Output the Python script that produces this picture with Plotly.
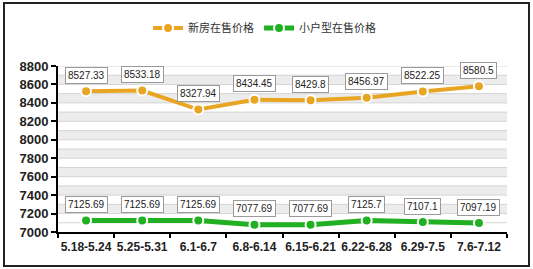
import plotly.graph_objects as go

categories = ["5.18-5.24", "5.25-5.31", "6.1-6.7", "6.8-6.14", "6.15-6.21", "6.22-6.28", "6.29-7.5", "7.6-7.12"]
new_price = [8527.33, 8533.18, 8327.94, 8434.45, 8429.8, 8456.97, 8522.25, 8580.5]
new_labels = ["8527.33", "8533.18", "8327.94", "8434.45", "8429.8", "8456.97", "8522.25", "8580.5"]
small_price = [7125.69, 7125.69, 7125.69, 7077.69, 7077.69, 7125.7, 7107.1, 7097.19]
small_labels = ["7125.69", "7125.69", "7125.69", "7077.69", "7077.69", "7125.7", "7107.1", "7097.19"]
y_ticks = [7000, 7200, 7400, 7600, 7800, 8000, 8200, 8400, 8600, 8800]

ORANGE = "#E8A522"
GREEN = "#21B021"

fig = go.Figure()
fig.add_trace(go.Scatter(
    x=categories, y=new_price, name="新房在售价格", mode="lines+markers",
    line=dict(color=ORANGE, width=4),
    marker=dict(color=ORANGE, size=10, line=dict(color="white", width=2)),
))
fig.add_trace(go.Scatter(
    x=categories, y=small_price, name="小户型在售价格", mode="lines+markers",
    line=dict(color=GREEN, width=5),
    marker=dict(color=GREEN, size=10, line=dict(color="white", width=2)),
))

shapes = []
for v in range(7000, 8800, 100):
    if (v // 100) % 2 == 0 and v >= 7200:
        shapes.append(dict(type="rect", xref="paper", yref="y", x0=0, x1=1, y0=v, y1=v + 100,
                           fillcolor="#ECECEC", line=dict(width=0), layer="below"))
for v in range(7100, 8900, 100):
    shapes.append(dict(type="line", xref="paper", yref="y", x0=0, x1=1, y0=v, y1=v,
                       line=dict(color="#D4D4D4", width=1), layer="below"))
shapes.append(dict(type="rect", xref="paper", yref="paper",
                   x0=-54 / 449, x1=1 + 22 / 449, y0=-34 / 166, y1=1 + 63 / 166,
                   line=dict(color="#222222", width=2), fillcolor="rgba(0,0,0,0)"))

annotations = []
for c, v, t in zip(categories, new_price, new_labels):
    annotations.append(dict(x=c, y=v, text=t, showarrow=False, yshift=16,
                            font=dict(family="Liberation Sans", size=10, color="#222"),
                            bgcolor="white", bordercolor="#9a9a9a", borderwidth=1, borderpad=2))
for c, v, t in zip(categories, small_price, small_labels):
    annotations.append(dict(x=c, y=v, text=t, showarrow=False, yshift=16,
                            font=dict(family="Liberation Sans", size=10, color="#222"),
                            bgcolor="white", bordercolor="#9a9a9a", borderwidth=1, borderpad=2))

fig.update_layout(
    width=533, height=269,
    margin=dict(l=58, r=26, t=66, b=37),
    paper_bgcolor="white", plot_bgcolor="white",
    shapes=shapes, annotations=annotations,
    showlegend=True,
    legend=dict(orientation="h", x=0.46, xanchor="center", y=1 + 38 / 166, yanchor="middle",
                font=dict(family="Noto Sans CJK SC", size=11, color="#333"),
                itemwidth=30, bgcolor="rgba(0,0,0,0)"),
    xaxis=dict(type="category", range=[-0.5, 7.5], showgrid=False,
               showline=True, linecolor="black", linewidth=2, tickangle=0,
               ticks="outside", tickson="boundaries", ticklen=4, tickcolor="black", tickwidth=2,
               ticklabelstandoff=3,
               tickfont=dict(family="Liberation Sans", size=12, color="#222", weight="bold")),
    yaxis=dict(range=[7000, 8800], tickvals=y_ticks, showgrid=False, zeroline=False,
               showline=True, linecolor="black", linewidth=2,
               ticks="outside", ticklen=5, tickcolor="black", tickwidth=2,
               tickfont=dict(family="Liberation Sans", size=13, color="#222", weight="bold")),
)

fig.write_html("out.html")
